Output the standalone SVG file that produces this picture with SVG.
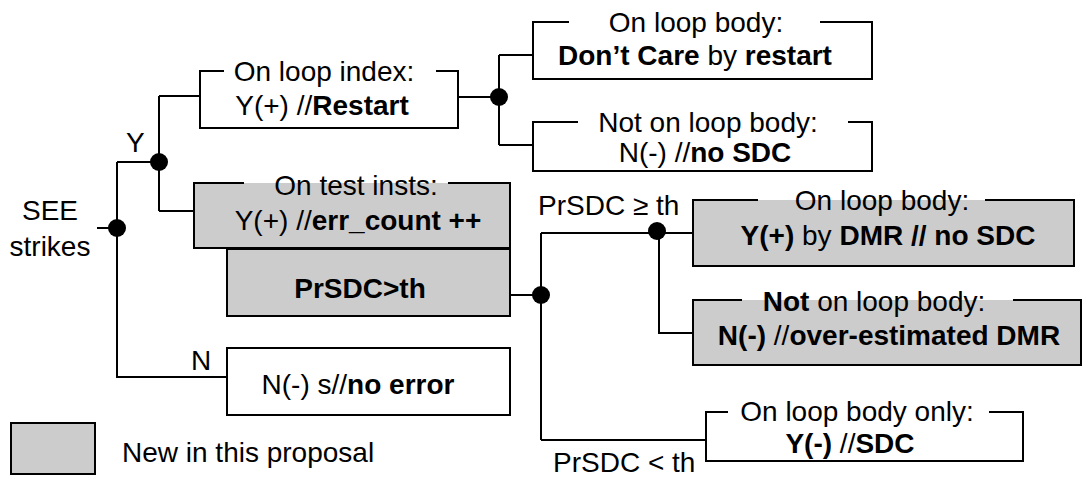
<svg xmlns="http://www.w3.org/2000/svg" width="1083" height="477" viewBox="0 0 1083 477">
<style>
text{font-family:"Liberation Sans",Arial,Helvetica,sans-serif;font-size:28px;fill:#000}
.c{text-anchor:middle}
.b{font-weight:bold}
.fill{fill:#cccccc;stroke:none}
.frame{fill:none;stroke:#000;stroke-width:2}
.wire{fill:none;stroke:#000;stroke-width:2}
.dot{fill:#000}
</style>
<rect width="1083" height="477" fill="#ffffff"/>

<g id="connectors">
  <path class="wire" d="M97,228 H117 M117,162 V377 H227 M117,162 H159 M159,96 V211 M159,96 H200 M159,211 H194"/>
  <path class="wire" d="M458,97 H499 M499,55 V145 M499,55 H533 M499,145 H533"/>
  <path class="wire" d="M510,295 H541 M541,233 V440 M541,233 H693 M659,233 V333 H693 M541,440 H706"/>
  <circle class="dot" cx="117" cy="228" r="9"/>
  <circle class="dot" cx="159" cy="162" r="9"/>
  <circle class="dot" cx="499" cy="97" r="9"/>
  <circle class="dot" cx="541" cy="295" r="9"/>
  <circle class="dot" cx="657" cy="231" r="9"/>
  <text x="126" y="152">Y</text>
  <text x="191" y="370">N</text>
  <text x="538" y="215">PrSDC ≥ th</text>
  <text x="553" y="472">PrSDC &lt; th</text>
</g>

<g id="see">
  <text class="c" x="50" y="220">SEE</text>
  <text class="c" x="50" y="256">strikes</text>
</g>

<g id="loop-index">
  <path class="frame" d="M224,71 H200 V128 H458 V71 H436"/>
  <text class="c" x="324" y="81">On loop index:</text>
  <text class="c" x="322" y="115">Y(+) //<tspan class="b">Restart</tspan></text>
</g>

<g id="dont-care">
  <path class="frame" d="M569,22 H533 V79 H872 V22 H820"/>
  <text class="c" x="696" y="32">On loop body:</text>
  <text class="c" x="695" y="65"><tspan class="b">Don’t Care</tspan> by <tspan class="b">restart</tspan></text>
</g>

<g id="no-sdc">
  <path class="frame" d="M578,122 H533 V171 H872 V122 H848"/>
  <text class="c" x="708" y="132">Not on loop body:</text>
  <text class="c" x="705" y="162">N(-) //<tspan class="b">no SDC</tspan></text>
</g>

<g id="test-insts">
  <rect class="fill" x="194" y="183" width="316" height="65"/>
  <path class="frame" d="M244,183 H194 V248 H510 V183 H448"/>
  <text class="c" x="356" y="195">On test insts:</text>
  <text class="c" x="358" y="230">Y(+) //<tspan class="b">err_count ++</tspan></text>
</g>

<g id="prsdc">
  <rect class="fill" x="227" y="249" width="283" height="67"/>
  <rect class="frame" x="227" y="249" width="283" height="67"/>
  <text class="c b" x="360" y="298">PrSDC&gt;th</text>
</g>

<g id="no-error">
  <rect class="frame" x="227" y="348" width="283" height="67"/>
  <text class="c" x="358" y="394">N(-) s//<tspan class="b">no error</tspan></text>
</g>

<g id="dmr">
  <rect class="fill" x="693" y="200" width="381" height="66"/>
  <path class="frame" d="M758,200 H693 V266 H1074 V200 H985"/>
  <text class="c" x="882" y="210">On loop body:</text>
  <text class="c" x="888" y="245"><tspan class="b">Y(+)</tspan> by <tspan class="b">DMR // no SDC</tspan></text>
</g>

<g id="over-dmr">
  <rect class="fill" x="693" y="300" width="388" height="65"/>
  <path class="frame" d="M742,300 H693 V365 H1081 V300 H1013"/>
  <text class="c" x="874" y="311"><tspan class="b">Not</tspan> on loop body:</text>
  <text class="c" x="889" y="345"><tspan class="b">N(-)</tspan> //<tspan class="b">over-estimated DMR</tspan></text>
</g>

<g id="sdc">
  <path class="frame" d="M728,412 H706 V461 H1023 V412 H989"/>
  <text class="c" x="857" y="421">On loop body only:</text>
  <text class="c" x="850" y="453"><tspan class="b">Y(-)</tspan> //<tspan class="b">SDC</tspan></text>
</g>

<g id="legend">
  <rect class="fill" x="11" y="423" width="84" height="51"/>
  <rect class="frame" x="11" y="423" width="84" height="51"/>
  <text x="122" y="462">New in this proposal</text>
</g>
</svg>
